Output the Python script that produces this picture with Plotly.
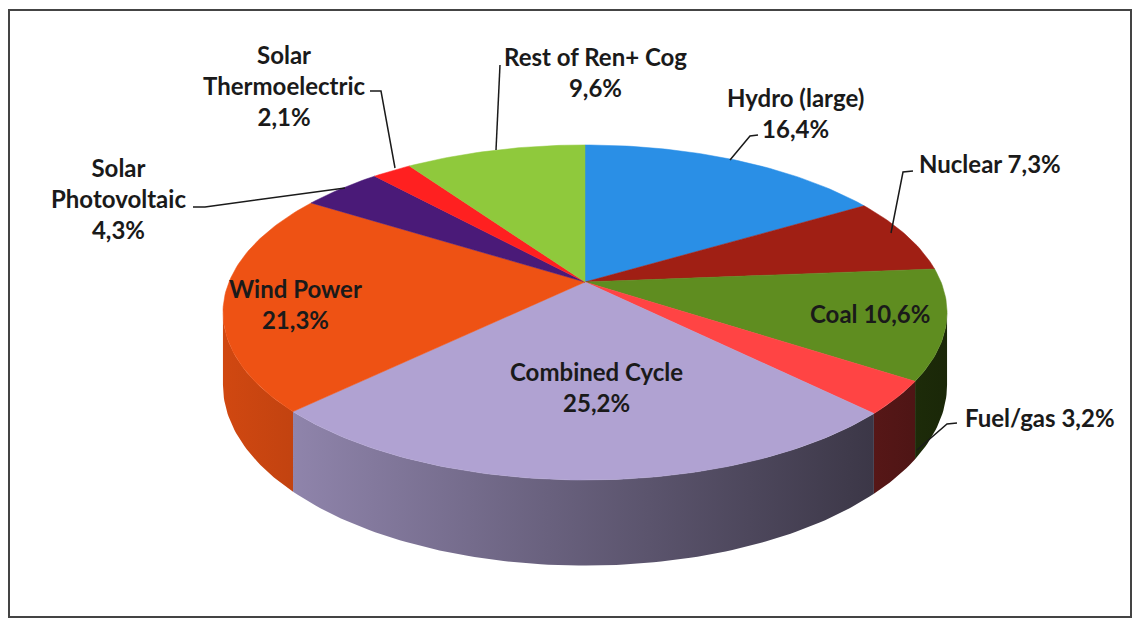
import numpy as np
import plotly.graph_objects as go

# ---- data ----
labels = ["Hydro (large)", "Nuclear", "Coal", "Fuel/gas", "Combined Cycle",
          "Wind Power", "Solar Photovoltaic", "Solar Thermoelectric", "Rest of Ren+ Cog"]
values = [16.4, 7.3, 10.6, 3.2, 25.2, 21.3, 4.3, 2.1, 9.6]
value_text = ["16,4%", "7,3%", "10,6%", "3,2%", "25,2%", "21,3%", "4,3%", "2,1%", "9,6%"]
colors = ["#2a8fe6", "#a01f14", "#5f8d20", "#ff4444", "#b0a2d2",
          "#ee5214", "#4a1a78", "#ff2020", "#8fc93c"]

# ---- geometry (style) ----
W, H = 1134, 619
cx, cy = 585.0, 282.0
R, Ry, k, D = 356.0, 162.0, 0.182, 70.0


def proj(theta_deg, drop=0.0):
    t = np.radians(theta_deg)
    u, w = np.sin(t), -np.cos(t)
    s = 1.0 / (1.0 - k * w)
    return cx + R * u * s, cy + Ry * w * s + drop * s


def shade(hexcol, f):
    h = hexcol.lstrip("#")
    r, g, b = (int(h[i:i + 2], 16) for i in (0, 2, 4))
    return "rgb(%d,%d,%d)" % (r * f, g * f, b * f)


fig = go.Figure()

total = sum(values)
bounds = np.concatenate([[0], np.cumsum(values)]) / total * 360.0
th1 = np.degrees(np.arccos(-k))
th2 = 360.0 - th1

# sides (front)
for i, c in enumerate(colors):
    a, b = max(bounds[i], th1), min(bounds[i + 1], th2)
    if b <= a:
        continue
    ts = np.linspace(a, b, max(3, int((b - a) / 1.0) + 2))
    xt, yt = proj(ts)
    xb, yb = proj(ts[::-1], D)
    xs = np.concatenate([xt, xb, [xt[0]]])
    ys = np.concatenate([yt, yb, [yt[0]]])
    fig.add_trace(go.Scatter(
        x=xs, y=ys, mode="lines", fill="toself", line=dict(width=0),
        fillgradient=dict(type="horizontal", start=220, stop=950,
                          colorscale=[[0, shade(c, 0.88)], [0.45, shade(c, 0.6)], [1, shade(c, 0.28)]]),
        hoverinfo="skip", showlegend=False))

# top faces
for i, c in enumerate(colors):
    a, b = bounds[i], bounds[i + 1]
    ts = np.linspace(a, b, max(3, int((b - a) / 1.0) + 2))
    xa, ya = proj(ts)
    xs = np.concatenate([[cx], xa, [cx]])
    ys = np.concatenate([[cy], ya, [cy]])
    fig.add_trace(go.Scatter(
        x=xs, y=ys, mode="lines", fill="toself", fillcolor=c,
        line=dict(width=0.5, color=c), hoverinfo="skip", showlegend=False,
        name=labels[i]))

# ---- labels ----
label_text = [
    "Hydro (large)<br>" + value_text[0],
    "Nuclear " + value_text[1],
    "Coal " + value_text[2],
    "Fuel/gas " + value_text[3],
    "Combined Cycle<br>" + value_text[4],
    "Wind Power<br>" + value_text[5],
    "Solar<br>Photovoltaic<br>" + value_text[6],
    "Solar<br>Thermoelectric<br>" + value_text[7],
    "Rest of Ren+ Cog<br>" + value_text[8],
]
label_pos = [(795, 113), (990, 163), (870, 313), (1040, 417), (596, 387),
             (295, 304), (118, 198), (284, 85), (595, 72)]
leaders = [
    [(758, 135), (750, 136), (730, 160)],
    [(913, 171), (903, 172), (891, 233)],
    None,
    [(957, 423), (947, 424), (917, 450)],
    None,
    None,
    [(193, 207), (205, 207), (345, 188)],
    [(370, 91), (381, 91), (395, 168)],
    [(500, 65), (496, 150)],
]

for pts in leaders:
    if pts is None:
        continue
    fig.add_trace(go.Scatter(x=[p[0] for p in pts], y=[p[1] for p in pts], mode="lines",
                             line=dict(color="#1a1a1a", width=1.5),
                             hoverinfo="skip", showlegend=False))

for txt, (x, y) in zip(label_text, label_pos):
    fig.add_annotation(x=x, y=y, xref="x", yref="y", text="<b>" + txt + "</b>",
                       showarrow=False, font=dict(family="Lato", size=24, color="#1a1a1a"),
                       align="center", xanchor="center", yanchor="middle")

fig.add_shape(type="rect", xref="x", yref="y", x0=9, y0=10, x1=1131, y1=617,
              line=dict(color="#444444", width=2), fillcolor="rgba(0,0,0,0)")

fig.update_layout(
    width=W, height=H, margin=dict(l=0, r=0, t=0, b=0),
    paper_bgcolor="white", plot_bgcolor="white",
    xaxis=dict(range=[0, W], visible=False, fixedrange=True),
    yaxis=dict(range=[H, 0], visible=False, fixedrange=True),
    showlegend=False,
)
fig.write_html("out.html", config={"displayModeBar": False},
               post_script="document.body.style.margin='0';document.body.style.overflow='hidden';")
